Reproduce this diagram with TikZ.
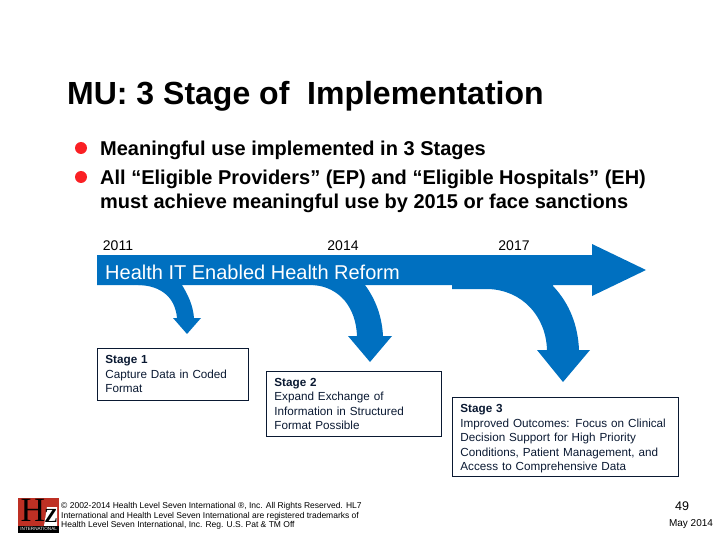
\documentclass[tikz,border=0pt]{standalone}
\usepackage{fontspec}
\setmainfont{Liberation Sans}
\newfontfamily\logofont{Liberation Serif}
\definecolor{hlblue}{RGB}{0,112,192}
\definecolor{hlred}{RGB}{250,32,36}
\definecolor{hlbrick}{RGB}{190,48,36}
\definecolor{hlnavy}{RGB}{10,25,50}
\tikzset{band/.style={fill=hlblue,draw=none}}
\tikzset{bullet/.style={circle,fill=hlred,inner sep=0pt,minimum size=12pt}}
\tikzset{point/.style={anchor=west,inner sep=0pt,font=\fontsize{20}{26}\selectfont\bfseries}}
\tikzset{year/.style={inner sep=0pt,font=\fontsize{14}{16}\selectfont}}
\tikzset{stagebox/.style={draw=hlnavy,text=hlnavy,line width=0.8pt,anchor=north west,inner xsep=8pt,inner ysep=2pt,align=left,font=\fontsize{11.7}{14.5}\selectfont}}
\tikzset{legal/.style={anchor=west,inner sep=0pt,align=left,font=\fontsize{8.5}{9.7}\selectfont}}
\begin{document}
\begin{tikzpicture}[x=1pt,y=-1pt]
    \useasboundingbox (0,0) rectangle (720,540);
    \node[anchor=west,inner sep=0pt,font=\fontsize{32}{36}\selectfont\bfseries] (title) at (67,96) {MU: 3 Stage of\ \ Implementation};
    \node[bullet] (b1) at (81,148) {};
    \node[bullet] (b2) at (81,177) {};
    \node[point] (p1) at (100,150) {Meaningful use implemented in 3 Stages};
    \node[point] (p2) at (100,179) {All “Eligible Providers” (EP) and “Eligible Hospitals” (EH)};
    \node[point] (p3) at (100,203) {must achieve meaningful use by 2015 or face sanctions};
    \node[year] (y1) at (118,246) {2011};
    \node[year] (y2) at (343,246) {2014};
    \node[year] (y3) at (514,246) {2017};
    % main arrow
    \fill[band] (97,255) -- (592,255) -- (592,244) -- (646,270) -- (592,296) -- (592,285) -- (97,285) -- cycle;
    % bent arrows
    \fill[band] (133,283) -- (133,285) .. controls (158,284) and (175,295) .. (177,318) -- (173,318) -- (187,334) -- (201,318) -- (194,318) .. controls (193,305) and (188,295) .. (182,285) -- (182,283) -- cycle;
    \fill[band] (313,283) -- (313,285) .. controls (340,287) and (356,308) .. (357,336) -- (348,336) -- (370,362) -- (392,336) -- (383,336) .. controls (382,317) and (376,300) .. (365,285) -- (365,283) -- cycle;
    \fill[band] (452,283) -- (452,289) -- (488,289) .. controls (522,290) and (546,316) .. (547,350) -- (537,350) -- (563,382) -- (590,350) -- (579,350) .. controls (578,326) and (570,304) .. (553,286) -- (553,283) -- cycle;
    \node[anchor=west,inner sep=0pt,text=white,font=\fontsize{20}{22}\selectfont] (reform) at (105,272) {Health IT Enabled Health Reform};
    \node[stagebox,minimum width=151pt,minimum height=52pt,text width=135pt] (s1) at (97,348) {\textbf{Stage 1}\\Capture Data in Coded\\Format};
    \node[stagebox,minimum width=175pt,minimum height=65pt,text width=159pt] (s2) at (266,371) {\textbf{Stage 2}\\Expand Exchange of\\Information in Structured\\Format Possible};
    \node[stagebox,minimum width=226pt,minimum height=79pt,text width=210pt] (s3) at (452,397) {\rule{0pt}{12pt}\textbf{Stage 3}\\Improved Outcomes: Focus on Clinical\\Decision Support for High Priority\\Conditions, Patient Management, and\\Access to Comprehensive Data};
    % logo
    \node[fill=hlbrick,minimum width=41pt,minimum height=35pt,anchor=north west,inner sep=0pt] (logo) at (18,498) {};
    \node[inner sep=0pt,font=\fontsize{34}{34}\selectfont\logofont] (logoh) at (33,510) {H};
    \fill[white] (47,507) -- (57,507) -- (57,526) -- (44,526) -- cycle;
    \node[inner sep=0pt,font=\fontsize{20}{20}\selectfont\logofont\bfseries] (logoz) at (51,516) {Z};
    \node[fill=black,text=white,minimum width=41pt,minimum height=7pt,anchor=south west,inner sep=0pt,font=\fontsize{4.6}{5}\selectfont] (logoband) at (18,533) {INTERNATIONAL};
    \node[legal] (copy) at (61,516) {© 2002-2014 Health Level Seven International ®, Inc. All Rights Reserved. HL7\\International and Health Level Seven International are registered trademarks of\\Health Level Seven International, Inc. Reg. U.S. Pat \& TM Off};
    \node[inner sep=0pt,font=\fontsize{12.5}{15}\selectfont] (page) at (682,506) {49};
    \node[inner sep=0pt,font=\fontsize{10}{12}\selectfont] (date) at (691,524) {May 2014};
\end{tikzpicture}
\end{document}
